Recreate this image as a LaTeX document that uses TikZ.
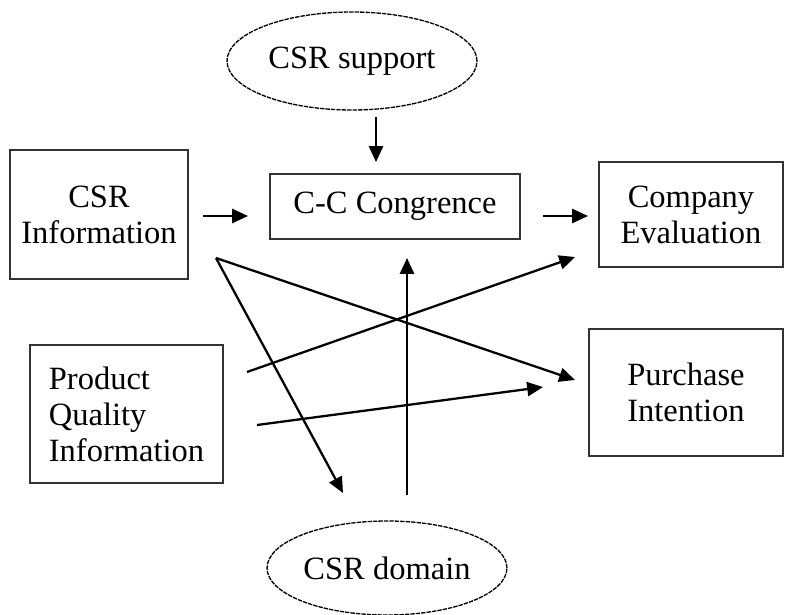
\documentclass[tikz,border=0pt]{standalone}
\usepackage{fontspec}
\setmainfont{Liberation Serif}
\usetikzlibrary{shapes.geometric,arrows.meta}

\begin{document}
\begin{tikzpicture}[x=0.02cm,y=-0.02cm,
  every node/.style={font=\fontsize{18.5}{20.5}\selectfont},
  box/.style={draw=black!80,line width=0.9pt,align=center,inner sep=0pt},
  oval/.style={ellipse,draw,line width=0.75pt,dash pattern=on 2.5pt off 0.6pt,inner sep=0pt},
  arr/.style={line width=1.3pt,-{Triangle[length=9pt,width=8pt]}}]
\useasboundingbox (0,0) rectangle (788,615);
\node[oval,minimum width=5cm,minimum height=1.96cm] (supp) at (352,61) {CSR support};
\node[oval,minimum width=4.8cm,minimum height=1.88cm] (dom) at (387,568) {CSR domain};
\node[box,minimum width=3.56cm,minimum height=2.58cm] (info) at (99,214.5) {CSR\\Information};
\node[box,minimum width=5cm,minimum height=1.3cm] (cong) at (395,206.5) {C-C Congrence};
\node[box,minimum width=3.68cm,minimum height=2.1cm] (comp) at (691,214.5) {Company\\Evaluation};
\node[box,align=left,minimum width=3.86cm,minimum height=2.76cm] (prod) at (126.5,414) {Product\\Quality\\Information};
\node[box,minimum width=3.88cm,minimum height=2.54cm] (purch) at (686,392.5) {Purchase\\Intention};
\coordinate (s1) at (376,117);
\coordinate (s2) at (376,162);
\coordinate (i1) at (203,216);
\coordinate (i2) at (248,216);
\coordinate (c1) at (543,216);
\coordinate (c2) at (588,216);
\coordinate (o) at (216,258);
\coordinate (dt) at (343,493);
\coordinate (pt) at (575,380);
\coordinate (q1) at (247,372);
\coordinate (et) at (575,257);
\coordinate (q2) at (257,425);
\coordinate (pt2) at (543,387);
\coordinate (m1) at (407,495);
\coordinate (m2) at (407,258);
\draw[arr] (s1) -- (s2);
\draw[arr] (i1) -- (i2);
\draw[arr] (c1) -- (c2);
\draw[arr] (o) -- (dt);
\draw[arr] (o) -- (pt);
\draw[arr] (q1) -- (et);
\draw[arr] (q2) -- (pt2);
\draw[arr] (m1) -- (m2);
\end{tikzpicture}
\end{document}
